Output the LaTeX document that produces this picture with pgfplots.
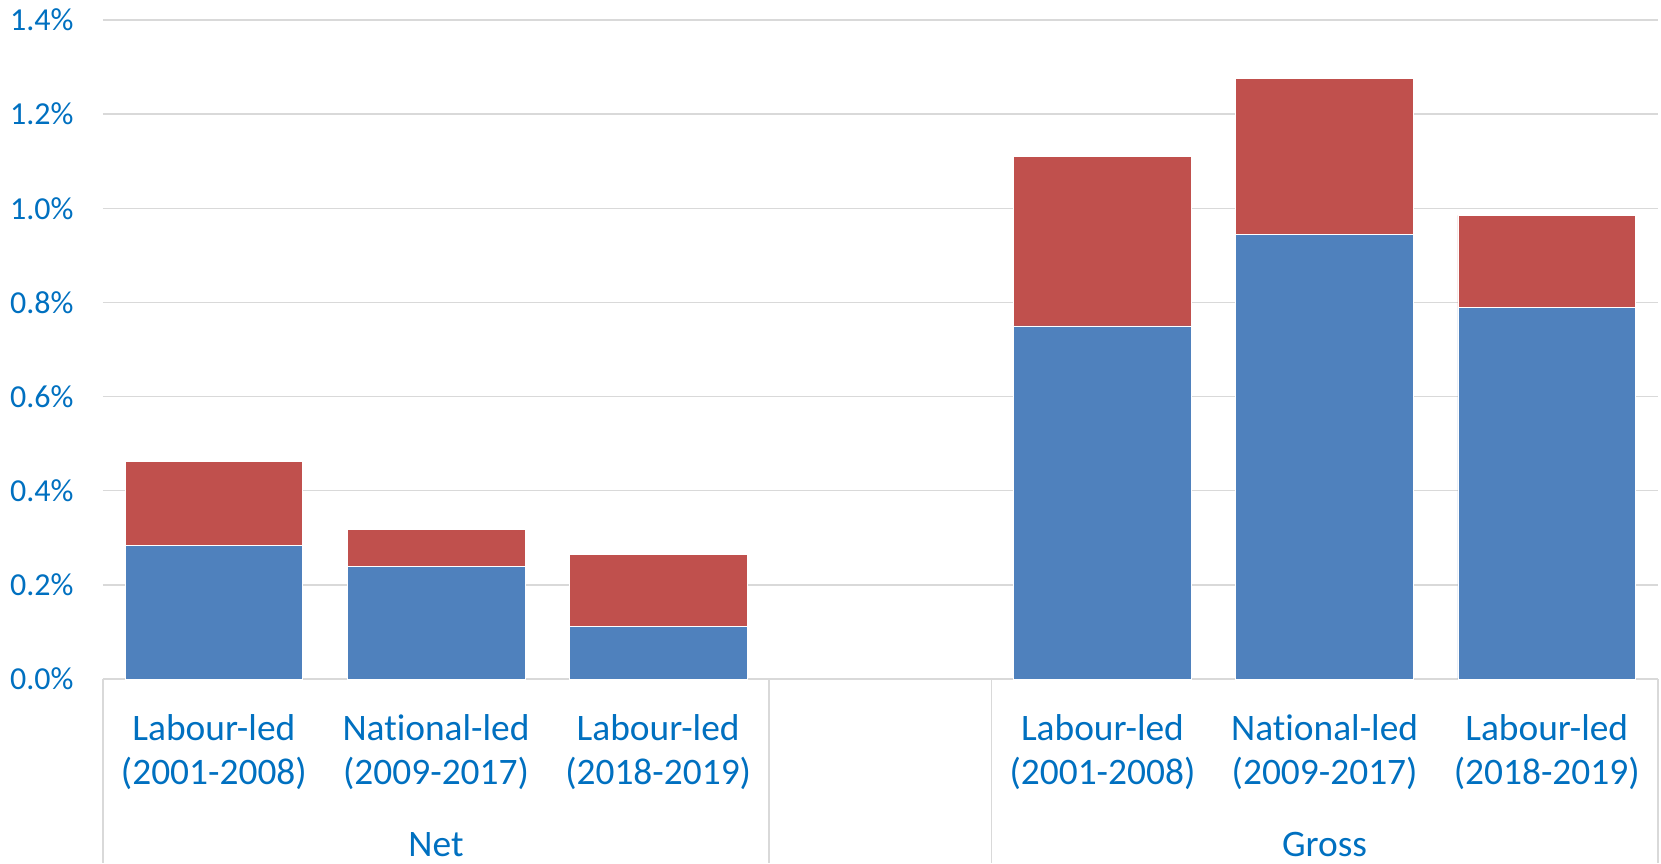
\documentclass[border=0pt]{standalone}
\usepackage{pgfplots}
\pgfplotsset{compat=1.18}
\usepackage{fontspec}
\setmainfont[Ligatures=NoCommon]{Carlito}
\definecolor{barblue}{HTML}{4F81BD}
\definecolor{barred}{HTML}{C0504D}
\definecolor{txtblue}{HTML}{0070C0}
\definecolor{gridgray}{HTML}{D9D9D9}

\begin{document}
\begin{tikzpicture}
\begin{axis}[
    scale only axis,
    width=777.5pt, height=329.5pt,
    ybar stacked,
    bar width=0.8,
    xmin=-0.5, xmax=6.5,
    ymin=0, ymax=1.4,
    xtick={0,1,2,4,5,6},
    xticklabels={{Labour-led\\(2001-2008)},{National-led\\(2009-2017)},{Labour-led\\(2018-2019)},
                 {Labour-led\\(2001-2008)},{National-led\\(2009-2017)},{Labour-led\\(2018-2019)}},
    ytick={0,0.2,0.4,0.6,0.8,1.0,1.2,1.4},
    ymajorgrids,
    grid style={gridgray, line width=0.75pt},
    axis line style={draw=none},
    tick style={draw=none},
    /pgf/number format/assume math mode=true,
    yticklabel={\pgfmathprintnumber[fixed,fixed zerofill,precision=1]{\tick}\%},
    yticklabel style={font=\fontsize{16}{19}\selectfont, text=txtblue, inner sep=0pt, xshift=-14.4pt},
    xticklabel style={font=\fontsize{18.7}{22}\selectfont, text=txtblue, align=center, inner sep=0pt, yshift=-17.5pt},
    clip=false,
]
% blue segment
\addplot[fill=barblue, draw=white, line width=0.3pt] coordinates {
    (0,0.283) (1,0.240) (2,0.112) (4,0.750) (5,0.945) (6,0.789)
};
% red segment
\addplot[fill=barred, draw=white, line width=0.3pt] coordinates {
    (0,0.179) (1,0.078) (2,0.152) (4,0.361) (5,0.331) (6,0.196)
};
% group separators
\pgfplotsinvokeforeach{-0.5,2.5,3.5,6.5}{
    \draw[gridgray, line width=0.75pt] (axis cs:#1,0) -- ([yshift=-92pt]axis cs:#1,0);
}
\node[font=\fontsize{18.7}{22}\selectfont, text=txtblue] at ([yshift=-82.6pt]axis cs:1,0) {Net};
\node[font=\fontsize{18.7}{22}\selectfont, text=txtblue] at ([yshift=-82.6pt]axis cs:5,0) {Gross};
\coordinate (bl) at (rel axis cs:0,0);
\coordinate (tr) at (rel axis cs:1,1);
\end{axis}
\pgfresetboundingbox
\path ([xshift=-51.4pt,yshift=-92pt]bl) rectangle ([xshift=1.6pt,yshift=10pt]tr);
\end{tikzpicture}
\end{document}
